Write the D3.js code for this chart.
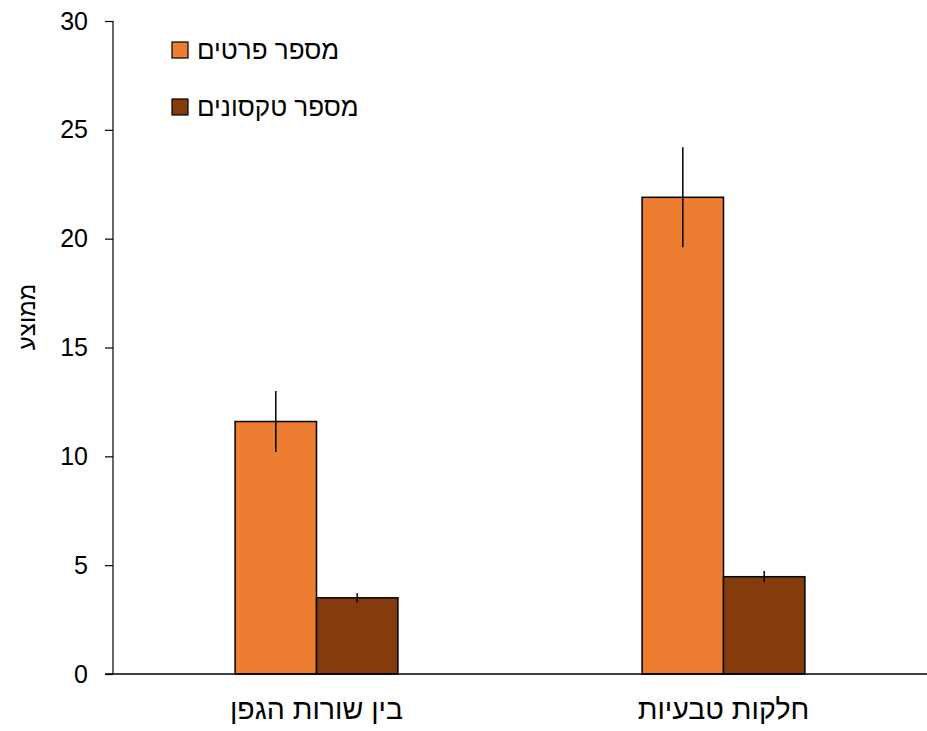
<!DOCTYPE html>
<html>
<head>
<meta charset="utf-8">
<script src="https://cdn.jsdelivr.net/npm/d3@7"></script>
<style>
  html, body { margin: 0; padding: 0; background: #fff; }
  svg { display: block; font-family: "Liberation Sans", Arial, sans-serif; }
</style>
</head>
<body>
<svg id="chart" width="927" height="731"></svg>
<script>
const categories = ["בין שורות הגפן", "חלקות טבעיות"];
const seriesNames = ["מספר פרטים", "מספר טקסונים"];
const seriesColors = ["#ED7D31", "#843C0C"];
const individuals = [11.6, 21.9];
const individualsErr = [1.4, 2.3];
const taxa = [3.5, 4.47];
const taxaErr = [0.21, 0.26];
const yTicks = [0, 5, 10, 15, 20, 25, 30];
const yLabel = "ממוצע";

const seriesValues = [individuals, taxa];
const seriesErrs = [individualsErr, taxaErr];

const svg = d3.select("#chart");
const margin = { left: 113, right: 0, top: 21, bottom: 57 };
const W = 927, H = 731;
const plotW = W - margin.left - margin.right;
const plotH = H - margin.top - margin.bottom;
const FONT = "Liberation Sans, Arial, sans-serif";

const g = svg.append("g").attr("transform", `translate(${margin.left},${margin.top})`);

const x0 = d3.scaleBand().domain(categories).range([0, plotW]).paddingInner(0).paddingOuter(0);
const groupWidth = x0.bandwidth() * 0.4;
const x1 = d3.scaleBand().domain(seriesNames).range([0, groupWidth]).padding(0);
const y = d3.scaleLinear().domain([0, 30]).range([plotH, 0]);

// bars
categories.forEach((cat, ci) => {
  const gx = x0(cat) + (x0.bandwidth() - groupWidth) / 2;
  seriesNames.forEach((s, si) => {
    const v = seriesValues[si][ci];
    g.append("rect")
      .attr("x", gx + x1(s))
      .attr("y", y(v))
      .attr("width", x1.bandwidth())
      .attr("height", y(0) - y(v))
      .attr("fill", seriesColors[si])
      .attr("stroke", "#000")
      .attr("stroke-width", 1.5);
  });
});

// error bars
categories.forEach((cat, ci) => {
  const gx = x0(cat) + (x0.bandwidth() - groupWidth) / 2;
  seriesNames.forEach((s, si) => {
    const v = seriesValues[si][ci];
    const e = seriesErrs[si][ci];
    const cx = gx + x1(s) + x1.bandwidth() / 2;
    g.append("line")
      .attr("x1", cx).attr("x2", cx)
      .attr("y1", y(v + e)).attr("y2", y(v - e))
      .attr("stroke", "#000").attr("stroke-width", 1.5);
  });
});

// y axis
const yAxis = d3.axisLeft(y).tickValues(yTicks).tickSize(8).tickPadding(17).tickFormat(d3.format("d"));
const ya = g.append("g").call(yAxis);
ya.select(".domain").attr("stroke", "#000").attr("stroke-width", 1.2).attr("d", `M0,0V${plotH}`);
ya.selectAll(".tick line").attr("stroke", "#000").attr("stroke-width", 1.2);
ya.selectAll(".tick text").attr("font-size", 25).attr("fill", "#000").attr("font-family", FONT);

// x axis
const xAxis = d3.axisBottom(x0).tickSize(0).tickPadding(25);
const xa = g.append("g").attr("transform", `translate(0,${plotH})`).call(xAxis);
xa.select(".domain").attr("stroke", "#000").attr("stroke-width", 1.5).attr("d", `M-8,0H${plotW}`);
xa.selectAll(".tick text").attr("font-size", 28.5).attr("fill", "#000").attr("font-family", FONT);

// y label
svg.append("text")
  .attr("transform", `translate(26,317) rotate(-90)`)
  .attr("text-anchor", "middle")
  .attr("dominant-baseline", "central")
  .attr("font-size", 24)
  .attr("font-family", FONT)
  .attr("fill", "#000")
  .text(yLabel);

// legend
const legend = svg.append("g");
seriesNames.forEach((s, i) => {
  const ly = 50 + i * 57;
  legend.append("rect")
    .attr("x", 172).attr("y", ly - 8)
    .attr("width", 16).attr("height", 16)
    .attr("fill", seriesColors[i]).attr("stroke", "#000").attr("stroke-width", 1.2);
  legend.append("text")
    .attr("x", 197).attr("y", ly)
    .attr("dominant-baseline", "central")
    .attr("font-size", 26)
    .attr("font-family", FONT)
    .attr("fill", "#000")
    .text(s);
});
</script>
</body>
</html>
